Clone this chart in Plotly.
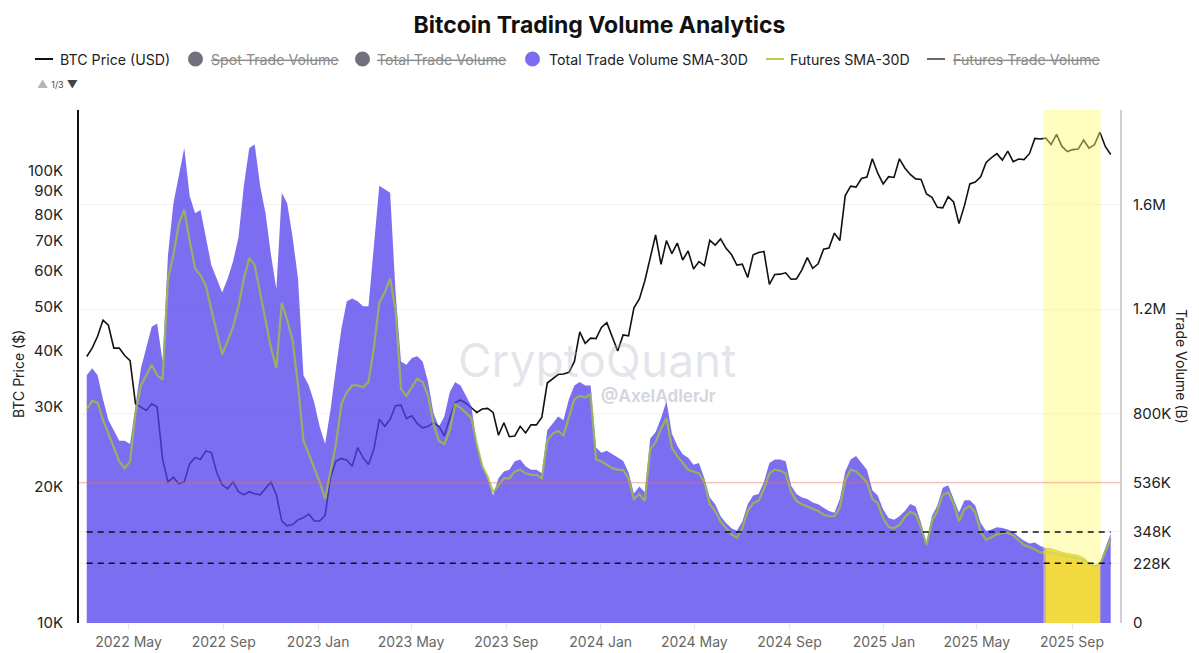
import pandas as pd
import plotly.graph_objects as go

# weekly samples, 2022-03-08 .. 2025-10-21
dates = pd.date_range("2022-03-08", periods=190, freq="7D")

# BTC price, thousands of USD
btc_price_k = [
    38.8, 40.5, 43.0, 46.7, 45.5, 40.5, 40.5, 39.0, 38.0, 30.5,
    30.0, 29.5, 30.5, 30.0, 23.0, 20.5, 21.0, 20.3, 20.5, 22.5,
    23.2, 23.0, 24.0, 23.8, 21.5, 20.2, 19.8, 20.5, 19.5, 19.2,
    19.5, 19.3, 19.2, 19.8, 20.5, 19.2, 16.8, 16.4, 16.5, 16.9,
    17.1, 17.4, 16.8, 16.8, 17.3, 21.0, 22.8, 23.1, 22.9, 22.2,
    24.4, 23.2, 22.4, 24.2, 28.2, 27.2, 28.2, 30.2, 30.3, 28.3,
    28.7, 27.6, 27.0, 27.2, 27.7, 27.2, 25.9, 28.3, 30.7, 31.1,
    30.6, 29.9, 29.2, 29.7, 29.8, 29.2, 26.0, 27.7, 25.8, 25.9,
    27.2, 26.3, 27.4, 27.4, 28.5, 33.9, 34.7, 35.4, 35.5, 35.8,
    37.8, 44.0, 41.5, 42.6, 42.5, 45.0, 46.1, 42.7, 39.9, 43.3,
    43.1, 49.7, 52.0, 57.0, 63.8, 72.0, 62.0, 70.0, 65.5, 69.1,
    63.4, 66.4, 60.6, 62.9, 61.6, 70.1, 68.4, 70.6, 67.3, 65.2,
    61.8, 62.1, 58.0, 65.1, 65.9, 66.2, 56.0, 58.9, 59.0, 59.4,
    57.5, 57.6, 60.3, 64.2, 60.8, 62.2, 67.0, 67.4, 72.7, 70.0,
    88.0, 92.3, 91.9, 96.0, 96.7, 106.1, 98.6, 93.4, 96.9, 96.5,
    106.1, 101.3, 98.0, 95.8, 95.5, 88.7, 87.2, 82.9, 82.7, 87.5,
    85.2, 76.3, 83.6, 93.4, 94.3, 96.8, 104.2, 106.8, 108.9, 105.4,
    110.3, 104.6, 106.0, 105.7, 108.9, 117.7, 117.4, 117.9, 114.1, 120.2,
    113.0, 110.1, 111.2, 111.5, 116.8, 112.0, 114.0, 121.5, 113.0, 108.5,
]

# Total Trade Volume SMA-30D, thousands
total_sma30 = [
    947, 974, 947, 855, 776, 737, 697, 697, 684, 830,
    974, 1053, 1132, 1145, 1000, 1408, 1605, 1711, 1816, 1632,
    1566, 1579, 1474, 1368, 1316, 1263, 1316, 1382, 1474, 1671,
    1816, 1829, 1671, 1566, 1408, 1276, 1645, 1605, 1474, 1316,
    947, 908, 842, 750, 684, 816, 974, 1125, 1230, 1240,
    1230, 1211, 1211, 1447, 1671, 1658, 1645, 1263, 1000, 987,
    1013, 1020, 1000, 921, 803, 750, 789, 882, 921, 908,
    868, 829, 684, 605, 553, 487, 553, 579, 586, 618,
    625, 599, 586, 586, 572, 737, 763, 789, 776, 855,
    908, 921, 908, 908, 671, 651, 658, 645, 632, 620,
    575, 495, 522, 500, 704, 730, 783, 849, 724, 678,
    645, 632, 605, 612, 553, 480, 454, 408, 382, 362,
    353, 388, 454, 487, 493, 539, 612, 625, 625, 618,
    526, 493, 480, 474, 461, 454, 441, 428, 421, 474,
    579, 625, 638, 612, 586, 507, 487, 434, 401, 395,
    408, 428, 455, 445, 382, 308, 409, 449, 517, 527,
    476, 422, 469, 469, 449, 382, 352, 357, 366, 363,
    357, 348, 330, 314, 304, 308, 294, 287, 285, 277,
    271, 267, 264, 260, 250, 231, 220, 227, 287, 341,
]

# Futures SMA-30D, thousands
futures_sma30 = [
    816, 849, 842, 776, 724, 671, 618, 592, 618, 803,
    908, 947, 987, 947, 930, 1316, 1408, 1526, 1579, 1461,
    1355, 1329, 1289, 1197, 1105, 1026, 1079, 1132, 1211, 1316,
    1395, 1368, 1263, 1158, 1053, 974, 1224, 1158, 1079, 908,
    697, 645, 592, 539, 474, 579, 684, 836, 882, 908,
    908, 901, 921, 1053, 1224, 1263, 1316, 1197, 895, 868,
    901, 934, 921, 868, 763, 697, 684, 737, 836, 822,
    803, 783, 684, 599, 559, 500, 526, 553, 553, 579,
    586, 572, 566, 566, 553, 697, 724, 734, 717, 789,
    855, 868, 862, 875, 625, 618, 605, 592, 586, 585,
    552, 473, 493, 467, 664, 691, 743, 783, 671, 638,
    612, 586, 579, 572, 539, 454, 428, 388, 362, 339,
    326, 362, 428, 458, 467, 513, 572, 586, 582, 572,
    500, 467, 454, 445, 434, 428, 414, 408, 408, 441,
    546, 586, 579, 559, 539, 474, 458, 401, 368, 362,
    375, 405, 425, 415, 365, 298, 389, 429, 490, 500,
    456, 389, 436, 447, 422, 348, 317, 328, 339, 344,
    344, 335, 317, 298, 290, 282, 270, 271, 270, 263,
    258, 254, 252, 247, 240, 227, 217, 223, 274, 321,
]

highlight_start = "2025-07-26"
highlight_end = "2025-10-08"
gold_start = "2025-07-25"
gold_end = "2025-10-10"

dashed_levels = [228, 348]
red_level = 536

vol_ticks = [0, 228, 348, 536, 800, 1200, 1600]
vol_labels = ["0", "228K", "348K", "536K", "800K", "1.2M", "1.6M"]
price_ticks = [10000, 20000, 30000, 40000, 50000, 60000, 70000, 80000, 90000, 100000]
price_labels = ["10K", "20K", "30K", "40K", "50K", "60K", "70K", "80K", "90K", "100K"]

FONT = "Inter, Roboto, Arial, sans-serif"
PURPLE_FILL = "rgba(84,64,236,0.76)"
GOLD_FILL = "rgb(232,192,24)"
GREEN = "rgba(156,192,66,0.82)"

W, H = 1199, 653
L, R, T, B = 79, 1120, 110, 623   # plot area in pixels


def px(x):
    return (x - L) / (R - L)


def py(y):
    return (B - y) / (B - T)


price = [p * 1000 for p in btc_price_k]

in_gold = (dates >= pd.Timestamp(gold_start)) & (dates <= pd.Timestamp(gold_end))
gold_dates = dates[in_gold]
gold_vals = [v for v, g in zip(total_sma30, in_gold) if g]

fig = go.Figure()

fig.add_trace(go.Scatter(x=dates, y=price, name="BTC Price (USD)", mode="lines",
                         line=dict(color="#111111", width=1.6), yaxis="y"))

# volume columns (daily in the source) drawn as a filled area
fig.add_trace(go.Scatter(x=dates, y=total_sma30, yaxis="y2", mode="lines",
                         line=dict(width=0, color=PURPLE_FILL),
                         fill="tozeroy", fillcolor=PURPLE_FILL,
                         name="Total Trade Volume SMA-30D"))
fig.add_trace(go.Scatter(x=gold_dates, y=gold_vals, yaxis="y2", mode="lines",
                         line=dict(width=0, color=GOLD_FILL),
                         fill="tozeroy", fillcolor=GOLD_FILL,
                         name="Total Trade Volume SMA-30D"))

fig.add_trace(go.Scatter(x=dates, y=futures_sma30, name="Futures SMA-30D", mode="lines",
                         line=dict(color=GREEN, width=2.2), yaxis="y2"))

shapes = [
    dict(type="rect", xref="x", yref="paper", x0=highlight_start, x1=highlight_end,
         y0=0, y1=1, fillcolor="#fff870", opacity=0.45, line=dict(width=0), layer="above"),
    dict(type="line", xref="paper", yref="y2", x0=0, x1=1, y0=red_level, y1=red_level,
         line=dict(color="rgba(240,110,110,0.55)", width=1), layer="above"),
]
for lv in dashed_levels:
    shapes.append(dict(type="line", xref="x", yref="y2", x0=dates[0], x1=dates[-1],
                       y0=lv, y1=lv, line=dict(color="#111111", width=1.5, dash="6px,5px"),
                       layer="above"))

annotations = [
    dict(text="CryptoQuant", xref="paper", yref="paper", x=0.498, y=0.512,
         xanchor="center", showarrow=False,
         font=dict(family=FONT, size=46, color="rgba(175,180,195,0.35)")),
    dict(text="<b>@AxelAdlerJr</b>", xref="paper", yref="paper", x=0.557, y=0.443,
         xanchor="center", showarrow=False,
         font=dict(family=FONT, size=17, color="rgba(160,165,180,0.45)")),
    dict(text="<span style='color:#b5b5b5'>▲</span> <span style='font-size:9px'>1/3</span> ▼",
         xref="paper", yref="paper", x=px(35), y=py(84), xanchor="left",
         yanchor="middle", showarrow=False, font=dict(family=FONT, size=11, color="#444")),
    dict(text="BTC Price ($)", xref="paper", yref="paper", x=px(18), y=py(374),
         xanchor="center", yanchor="middle", textangle=-90, showarrow=False,
         font=dict(family=FONT, size=14, color="#222")),
    dict(text="Trade Volume (B)", xref="paper", yref="paper", x=px(1182), y=py(366),
         xanchor="center", yanchor="middle", textangle=90, showarrow=False,
         font=dict(family=FONT, size=14, color="#222")),
]

# legend drawn by hand so it keeps the single tight row of the original
legend_y = 59
legend_items = [
    ("line", "#111111", 35, 58, "BTC Price (USD)", False),
    ("dot", "#71717d", 195.5, 209, "Spot Trade Volume", True),
    ("dot", "#71717d", 362.5, 375, "Total Trade Volume", True),
    ("dot", "#7b6cf0", 532.5, 547, "Total Trade Volume SMA-30D", False),
    ("line", "#b5d045", 766, 788, "Futures SMA-30D", False),
    ("line", "#6a6a6a", 927, 951, "Futures Trade Volume", True),
]
for kind, colour, sx, tx, label, struck in legend_items:
    if kind == "line":
        shapes.append(dict(type="line", xref="paper", yref="paper",
                           x0=px(sx), x1=px(sx + 18), y0=py(legend_y), y1=py(legend_y),
                           line=dict(color=colour, width=2)))
    else:
        shapes.append(dict(type="circle", xref="paper", yref="paper",
                           xsizemode="pixel", ysizemode="pixel",
                           xanchor=px(sx), yanchor=py(legend_y),
                           x0=-7.5, x1=7.5, y0=-7.5, y1=7.5,
                           fillcolor=colour, line=dict(width=0)))
    text = f"<s>{label}</s>" if struck else label
    annotations.append(dict(text=text, xref="paper", yref="paper", x=px(tx), y=py(legend_y),
                            xanchor="left", yanchor="middle", showarrow=False,
                            font=dict(family=FONT, size=14.2,
                                      color="#8a8a8a" if struck else "#222")))

fig.update_layout(
    width=W, height=H,
    margin=dict(l=L, r=W - R, t=T, b=H - B, autoexpand=False),
    paper_bgcolor="white", plot_bgcolor="white",
    font=dict(family=FONT, size=14, color="#222"),
    title=dict(text="<b>Bitcoin Trading Volume Analytics</b>", x=0.5, xanchor="center",
               y=1 - 25 / H, yanchor="middle", font=dict(family=FONT, size=23, color="#111")),
    showlegend=False,
    xaxis=dict(type="date", range=["2022-02-26", "2025-11-02"], tick0="2022-01-01",
               dtick="M4", tickformat="%Y %b", showgrid=False, zeroline=False,
               ticks="outside", ticklen=6, tickcolor="#e8e8e8",
               tickfont=dict(family=FONT, size=14, color="#666")),
    yaxis=dict(type="log", range=[4, 5.1336], tickvals=price_ticks, ticktext=price_labels,
               showgrid=False, zeroline=False, showline=True, linecolor="#111", linewidth=2,
               ticklabelstandoff=11, tickfont=dict(family=FONT, size=15, color="#222")),
    yaxis2=dict(overlaying="y", side="right", range=[0, 1961], tickvals=vol_ticks,
                ticktext=vol_labels, showgrid=True, gridcolor="#f2f2f2", zeroline=False,
                showline=True, linecolor="#d0d0d0", linewidth=2, ticklabelstandoff=8,
                tickfont=dict(family=FONT, size=15, color="#222")),
    shapes=shapes,
    annotations=annotations,
)

fig.write_html("out.html", config={"displayModeBar": False},
               post_script="document.body.style.margin='0px';")
